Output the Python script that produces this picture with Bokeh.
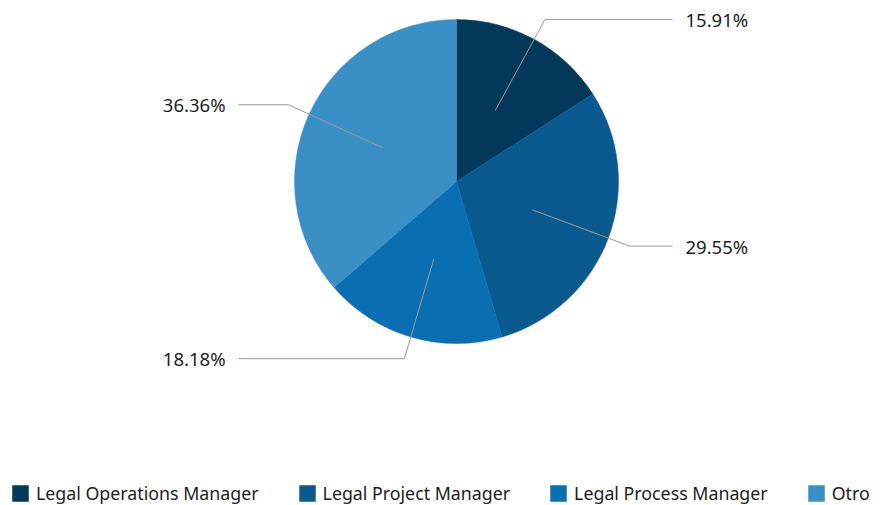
import math
from bokeh.plotting import figure
from bokeh.models import Range1d, Legend, LegendItem
from bokeh.core.properties import value
from bokeh.embed import file_html
from bokeh.resources import INLINE

categories = ["Legal Operations Manager", "Legal Project Manager", "Legal Process Manager", "Otro"]
percentages = [15.91, 29.55, 18.18, 36.36]
colors = ["#05395c", "#0a5a8f", "#0a6eb2", "#3a8fc5"]

W, H = 882, 505
cx, cy, R = 456, 505 - 181, 162

p = figure(width=W, height=H, output_backend="svg", toolbar_location=None,
           x_range=Range1d(0, W), y_range=Range1d(0, H), min_border=0)
p.axis.visible = False
p.grid.visible = False
p.outline_line_color = None

total = sum(percentages)
starts, ends, mids = [], [], []
acc = 0.0
for v in percentages:
    a0 = math.pi / 2 - 2 * math.pi * acc / total
    acc += v
    a1 = math.pi / 2 - 2 * math.pi * acc / total
    starts.append(a0)
    ends.append(a1)
    mids.append((a0 + a1) / 2)

items = []
for i, cat in enumerate(categories):
    r = p.wedge(x=cx, y=cy, radius=R, start_angle=starts[i], end_angle=ends[i],
                direction="clock", fill_color=colors[i], line_color=colors[i], line_width=0.5)
    items.append(LegendItem(label=cat, renderers=[r]))

# leader lines and labels
for i, v in enumerate(percentages):
    m = mids[i]
    x0, y0 = cx + 0.5 * R * math.cos(m), cy + 0.5 * R * math.sin(m)
    x1, y1 = cx + 1.14 * R * math.cos(m), cy + 1.14 * R * math.sin(m)
    right = math.cos(m) >= 0
    x2 = cx + 216 if right else cx - 218
    p.line([x0, x1, x2], [y0, y1, y1], line_color="#9a9a9a", line_width=1)
    tx = cx + 229 if right else cx - 231
    p.text(x=[tx], y=[y1], text=[f"{v:.2f}%"], text_font=value("Noto Sans"),
           text_font_size="18.5px", text_color="#1d1d1d", text_baseline="middle",
           text_align="left" if right else "right")

legend = Legend(items=items, orientation="horizontal", location=(10, 0),
                glyph_width=20, glyph_height=20, label_standoff=6, spacing=38,
                padding=0, margin=0, border_line_alpha=0, background_fill_alpha=0,
                label_text_font="Noto Sans", label_text_font_size="17.8px",
                label_text_color="#1d1d1d")
p.add_layout(legend)

open("out.html", "w").write(file_html(p, INLINE))
